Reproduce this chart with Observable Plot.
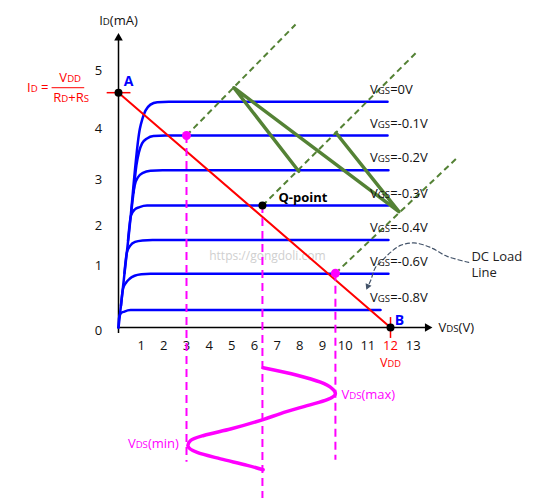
<!DOCTYPE html>
<html><head><meta charset="utf-8">
<script src="https://cdn.jsdelivr.net/npm/d3@7"></script>
<script src="https://cdn.jsdelivr.net/npm/@observablehq/plot@0.6"></script>
<style>body{margin:0;background:#fff}</style>
</head><body><div id="chart"></div>
<script>
// ---- data (V in volts, I in mA) ----
const vgsLabels = ["0V", "-0.1V", "-0.2V", "-0.3V", "-0.4V", "-0.6V", "-0.8V"];
const satCurrent = [4.54, 3.86, 3.16, 2.45, 1.76, 1.08, 0.35];
const curveVgs0   = [[0,0],[0.47,1.93],[0.94,3.99],[1.05,4.19],[1.19,4.36],[1.41,4.48],[1.71,4.53],[2.22,4.54],[11.87,4.54]];
const curveVgsM01 = [[0.66,2.71],[0.79,3.26],[0.90,3.52],[1.04,3.70],[1.26,3.80],[1.54,3.85],[2.07,3.86],[11.87,3.86]];
const curveVgsM02 = [[0.57,2.35],[0.71,2.85],[0.86,3.02],[1.08,3.11],[1.41,3.15],[1.94,3.16],[11.91,3.16]];
const curveVgsM03 = [[0.42,1.75],[0.55,2.25],[0.71,2.37],[0.93,2.42],[1.26,2.45],[1.72,2.45],[11.91,2.45]];
const curveVgsM04 = [[0.26,1.09],[0.37,1.51],[0.51,1.64],[0.73,1.72],[1.06,1.75],[1.50,1.76],[11.91,1.76]];
const curveVgsM06 = [[0.11,0.44],[0.20,0.78],[0.33,0.90],[0.49,0.98],[0.71,1.04],[1.01,1.07],[1.41,1.08],[11.91,1.08]];
const curveVgsM08 = [[0,0],[0.02,0.18],[0.09,0.28],[0.26,0.32],[0.53,0.35],[0.97,0.35],[11.56,0.35]];
const blueCurves = [curveVgs0, curveVgsM01, curveVgsM02, curveVgsM03, curveVgsM04, curveVgsM06, curveVgsM08];

const pointA = [0, 4.72];
const pointB = [12, 0];
const qPoint = [6.35, 2.45];
const swingPoints = [[3.0, 3.86], [9.57, 1.09]];
const greenDashed = [[3.0,3.86,7.81,6.09],[6.35,2.45,13.19,5.55],[9.57,1.09,14.96,3.42]];
const acSwing = [[7.95,3.14],[5.09,4.82],[12.37,2.33],[9.60,3.91]];
const dropLines = [[3.0,3.86,-2.71],[6.35,2.45,-3.44],[9.57,1.09,-2.67]];
const vdsWave = [[6.38,-0.81],[7.88,-0.96],[8.91,-1.10],[9.43,-1.23],[9.57,-1.33],[9.21,-1.45],[8.32,-1.57],[7.15,-1.73],[6.38,-1.85],[4.94,-2.04],[3.76,-2.17],[3.18,-2.27],[3.06,-2.37],[3.47,-2.51],[4.50,-2.64],[5.68,-2.77],[6.38,-2.86]];
const vdsMax = [9.57, -1.33];
const vdsMin = [3.06, -2.37];
const dcArrowPath = [[15.45,1.31],[14.50,1.43],[13.76,1.61],[13.03,1.70],[12.44,1.65],[12.0,1.51],[11.56,1.31],[11.34,1.21],[11.12,0.94],[10.97,0.80]];
const dcArrowHead = [11.0, 0.83];

const xTicks = [1,2,3,4,5,6,7,8,9,10,11,12,13];
const yTickLabels = ["0","1","2","3","4","5"];
const yTickPos = [-0.06, 1.23, 2.05, 2.97, 4.0, 5.15];
const xAxisExtent = [-0.04, 13.75];
const yAxisExtent = [-0.12, 5.85];
const xArrowHead = [13.63, 0];
const yArrowHead = [0, 5.82];
const vgsLabelX = 11.1;
const watermark = {text: "https://gongdoli.com", x: 6.57, y: 1.43};
const dcLabelLines = ["DC Load", "Line"];
const dcLabelPos = {x: 15.57, y: [1.42, 1.09]};
const formulaX = {lhs: -3.09, num: -2.13, den: -2.09, bar1: -2.93, bar2: -1.49};
const fractionBarY = 4.82;

// ---- build ----
const blueData = blueCurves.flatMap((c, k) => c.map(([x, y]) => ({x, y, k})));
const labelData = vgsLabels.map((v, i) => ({t: "V_{GS}=" + v, y: satCurrent[i]}));
const RED = "#ff0000", BLUE = "#0000ff", GREEN = "#548235", MAG = "#ff00ff";
const FONT = "'Open Sans', 'Noto Sans', sans-serif";

const plot = Plot.plot({
  width: 535, height: 498, margin: 0,
  x: {domain: [-5.206, 18.397], range: [0, 535], axis: null},
  y: {domain: [-3.437, 6.573], range: [498, 0], axis: null},
  style: {fontFamily: FONT, fontSize: "13px", background: "#fff", color: "#111"},
  marks: [
    // axes
    Plot.ruleX([0], {y1: yAxisExtent[0], y2: yAxisExtent[1], stroke: "#000", strokeWidth: 1.5}),
    Plot.ruleY([0], {x1: xAxisExtent[0], x2: xAxisExtent[1], stroke: "#000", strokeWidth: 1.5}),
    Plot.dot([yArrowHead], {x: d => d[0], y: d => d[1], symbol: "triangle", r: 3.2, fill: "#000", stroke: "none"}),
    Plot.dot([xArrowHead], {x: d => d[0], y: d => d[1], symbol: "triangle", r: 3.2, rotate: 90, fill: "#000", stroke: "none"}),
    Plot.text(xTicks, {x: d => d, y: 0, dy: 18, text: d => String(d), fill: d => d === 12 ? RED : "#111", fontSize: 13}),
    Plot.text(yTickLabels, {x: 0, y: (d, i) => yTickPos[i], dx: -20, text: d => d, fill: "#111", fontSize: 13}),
    Plot.text(["I_{D}(mA)"], {x: 0, y: 6.17, text: d => d, fill: "#111", fontSize: 13}),
    Plot.text(["V_{DS}(V)"], {x: 14.12, y: 0, text: d => d, textAnchor: "start", fill: "#111", fontSize: 13}),
    Plot.text(["https://gongdoli.com"], {x: watermark.x, y: watermark.y, text: d => d, fill: "#cfcfcf", fontSize: 12}),
    // characteristic curves
    Plot.line(blueData, {x: "x", y: "y", z: "k", stroke: BLUE, strokeWidth: 2.5, curve: "monotone-x"}),
    // load line
    Plot.line([pointA, pointB], {x: d => d[0], y: d => d[1], stroke: RED, strokeWidth: 2}),
    Plot.ruleY([pointA[1]], {x1: -0.5, x2: 0.55, stroke: RED, strokeWidth: 1.5}),
    Plot.ruleX([pointB[0]], {y1: 0.2, y2: -0.22, stroke: RED, strokeWidth: 1.5}),
    // green dashed projections
    Plot.link(greenDashed, {x1: d => d[0], y1: d => d[1], x2: d => d[2], y2: d => d[3], stroke: GREEN, strokeWidth: 2, strokeDasharray: "6,4"}),
    Plot.line(acSwing, {x: d => d[0], y: d => d[1], stroke: GREEN, strokeWidth: 3.5, strokeLinejoin: "round", strokeLinecap: "round"}),
    // magenta drop lines and wave
    Plot.ruleX(dropLines, {x: d => d[0], y1: d => d[1], y2: d => d[2], stroke: MAG, strokeWidth: 2, strokeDasharray: "8,5"}),
    Plot.line(vdsWave, {x: d => d[0], y: d => d[1], stroke: MAG, strokeWidth: 3.5, curve: "monotone-y"}),
    // DC load line pointer
    Plot.line(dcArrowPath, {x: d => d[0], y: d => d[1], stroke: "#44546a", strokeWidth: 1.2, strokeDasharray: "4,3", curve: "catmull-rom"}),
    Plot.dot([dcArrowHead], {x: d => d[0], y: d => d[1], symbol: "triangle", r: 2.4, rotate: 204, fill: "#44546a", stroke: "none"}),
    // points
    Plot.dot(swingPoints, {x: d => d[0], y: d => d[1], r: 4.5, fill: MAG, stroke: "none"}),
    Plot.dot([pointA, pointB, qPoint], {x: d => d[0], y: d => d[1], r: 4, fill: "#000", stroke: "none"}),
    // labels
    Plot.text(labelData, {x: vgsLabelX, y: "y", dy: -12, text: "t", textAnchor: "start", fill: "#111", fontSize: 13}),
    Plot.text(["Q-point"], {x: qPoint[0], y: qPoint[1], dx: 16, dy: -8, text: d => d, textAnchor: "start", fontWeight: "bold", fill: "#000", fontSize: 13}),
    Plot.text(["A"], {x: pointA[0], y: pointA[1], dx: 10, dy: -11, text: d => d, fontWeight: "bold", fill: BLUE, fontSize: 14}),
    Plot.text(["B"], {x: pointB[0], y: pointB[1], dx: 9, dy: -7, text: d => d, fontWeight: "bold", fill: BLUE, fontSize: 14}),
    Plot.text(["V_{DD}"], {x: pointB[0], y: 0, dy: 35, text: d => d, fill: RED, fontSize: 12.5}),
    Plot.text(["I_{D} ="], {x: formulaX.lhs, y: pointA[1], dy: -5, text: d => d, textAnchor: "end", fill: RED, fontSize: 13}),
    Plot.text(["V_{DD}"], {x: formulaX.num, y: pointA[1], dy: -14.5, text: d => d, fill: RED, fontSize: 13}),
    Plot.ruleY([fractionBarY], {x1: formulaX.bar1, x2: formulaX.bar2, stroke: RED, strokeWidth: 1}),
    Plot.text(["R_{D}+R_{S}"], {x: formulaX.den, y: pointA[1], dy: 5, text: d => d, fill: RED, fontSize: 13}),
    Plot.text(["V_{DS}(max)"], {x: vdsMax[0], y: vdsMax[1], dx: 6, dy: 1, text: d => d, textAnchor: "start", fill: MAG, fontSize: 13}),
    Plot.text(["V_{DS}(min)"], {x: vdsMin[0], y: vdsMin[1], dx: -9, dy: -2, text: d => d, textAnchor: "end", fill: MAG, fontSize: 13}),
    Plot.text(dcLabelLines, {x: dcLabelPos.x, y: (d, i) => dcLabelPos.y[i], text: d => d, textAnchor: "start", fill: "#222", fontSize: 13})
  ]
});

// render "_{...}" as smaller glyphs on the baseline
function richText(svg) {
  svg.querySelectorAll("text").forEach(t => {
    const targets = t.querySelector("tspan") ? Array.from(t.querySelectorAll("tspan")) : [t];
    targets.forEach(el => {
      const s = el.textContent;
      if (!s.includes("_{")) return;
      el.textContent = "";
      s.split(/(_\{[^}]*\})/).forEach(p => {
        if (!p) return;
        const ts = document.createElementNS("http://www.w3.org/2000/svg", "tspan");
        if (p.startsWith("_{")) { ts.textContent = p.slice(2, -1); ts.setAttribute("font-size", "0.74em"); }
        else ts.textContent = p;
        el.appendChild(ts);
      });
    });
  });
}
richText(plot);
document.getElementById("chart").appendChild(plot);
</script>
</body></html>
